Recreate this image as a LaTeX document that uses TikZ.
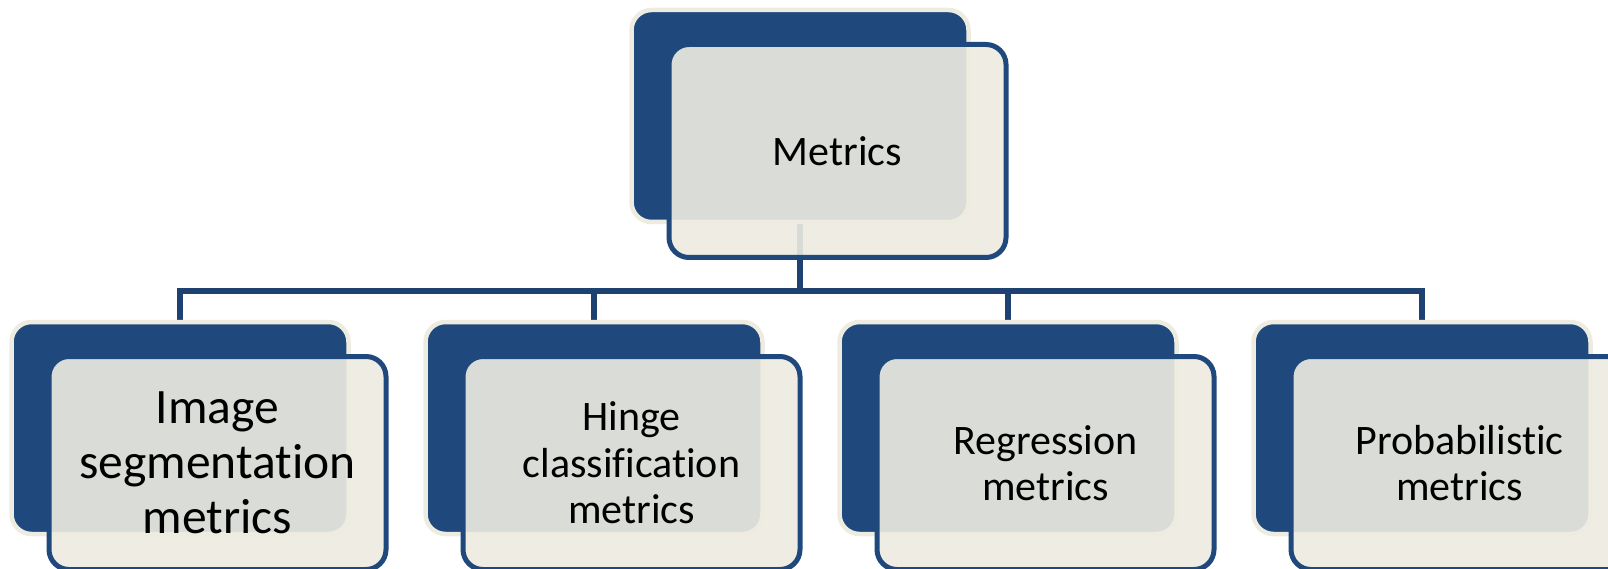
\documentclass[tikz,border=0pt]{standalone}
\usepackage{fontspec}
\setmainfont[Ligatures={NoCommon}]{Carlito}
\pgfdeclarelayer{background}
\pgfdeclarelayer{canvas}
\pgfsetlayers{canvas,background,main}
\definecolor{navy}{HTML}{1F497D}
\definecolor{linenavy}{HTML}{1D4272}
\definecolor{cream}{HTML}{EEECE1}
\tikzset{
  backbox/.style={rectangle, rounded corners=20pt, draw=cream, line width=4.5pt,
    fill=navy, minimum width=337pt, minimum height=212pt, inner sep=0pt},
  frontbox/.style={rectangle, rounded corners=20pt, draw=navy, line width=5pt,
    fill=cream, fill opacity=0.9, draw opacity=1, text opacity=1,
    minimum width=337pt, minimum height=213pt, inner sep=0pt, align=center,
    font=\fontsize{42}{46.5}\selectfont, text=black},
  bigtext/.style={font=\fontsize{49.5}{55}\selectfont},
  conn/.style={draw=linenavy, line width=6pt}
}
\begin{document}
\begin{tikzpicture}[x=1pt, y=-1pt]
\begin{pgfonlayer}{canvas}
\fill[white] (0,0) rectangle (1608,569);
\end{pgfonlayer}
\useasboundingbox (0,0) rectangle (1608,569);
\clip (0,0) rectangle (1608,569);
\coordinate (bus) at (0,291);
% top
\node[backbox] (m-back) at (800,116) {};
\node[frontbox] (m-front) at (837.5,151) {Metrics};
% bottom
\node[backbox] (a-back) at (180,428) {};
\node[frontbox, bigtext] (a-front) at (217.5,463) {Image\\segmentation\\metrics};
\node[backbox] (b-back) at (594,428) {};
\node[frontbox] (b-front) at (631.5,463) {Hinge\\classification\\metrics};
\node[backbox] (c-back) at (1008,428) {};
\node[frontbox] (c-front) at (1045.5,463) {Regression\\metrics};
\node[backbox] (d-back) at (1422,428) {};
\node[frontbox] (d-front) at (1459.5,463) {Probabilistic\\metrics};
\begin{pgfonlayer}{background}
\draw[conn] (m-back.south) -- (m-back.south |- bus);
\draw[conn] (a-back.north) |- (bus -| d-back.north) -- (d-back.north);
\draw[conn] (b-back.north) -- (b-back.north |- bus);
\draw[conn] (c-back.north) -- (c-back.north |- bus);
\end{pgfonlayer}
\end{tikzpicture}
\end{document}
